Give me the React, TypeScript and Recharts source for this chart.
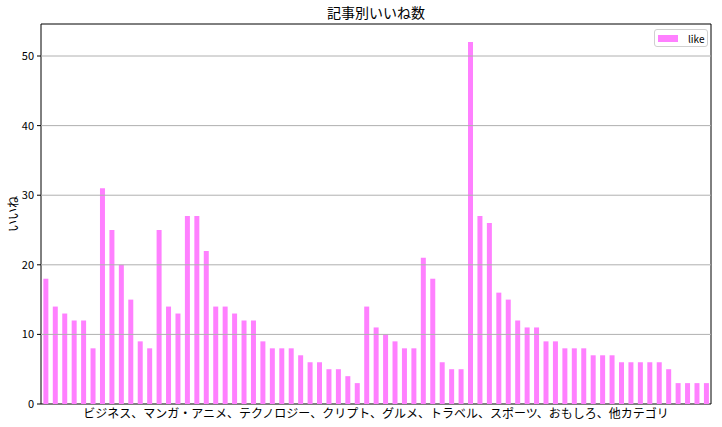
import { Bar, BarChart, Label, Legend, ReferenceArea, ReferenceLine, XAxis, YAxis } from "recharts";

const likes = [
  18, 14, 13, 12, 12, 8, 31, 25, 20, 15, 9, 8, 25, 14, 13, 27, 27, 22, 14, 14, 13, 12, 12, 9,
  8, 8, 8, 7, 6, 6, 5, 5, 4, 3, 14, 11, 10, 9, 8, 8, 21, 18, 6, 5, 5, 52, 27, 26, 16, 15, 12,
  11, 11, 9, 9, 8, 8, 8, 7, 7, 7, 6, 6, 6, 6, 6, 5, 3, 3, 3, 3,
];
const yTicks = [0, 10, 20, 30, 40, 50];
const seriesName = "like";
const title = "記事別いいね数";
const xLabel = "ビジネス、マンガ・アニメ、テクノロジー、クリプト、グルメ、トラベル、スポーツ、おもしろ、他カテゴリ";
const yLabel = "いいね";

const barColor = "#ff80ff";
const yMax = Math.max(...likes) * 1.05;

export default function App() {
  const data = likes.map((v, i) => ({ idx: i, like: v }));

  return (
    <div style={{ position: "absolute", left: 0, top: 0, fontFamily: "'Noto Sans CJK JP', sans-serif" }}>
      <BarChart
        width={722}
        height={427}
        data={data}
        margin={{ top: 24, right: 11, bottom: 23, left: 11 }}
        barCategoryGap="25%"
      >
        <XAxis dataKey="idx" hide />
        <YAxis
          width={30}
          domain={[0, yMax]}
          ticks={yTicks}
          interval={0}
          tickSize={4}
          tickMargin={3}
          axisLine={false}
          tickLine={{ stroke: "#000" }}
          tick={{ fontSize: 11, fill: "#000" }}
        />
        <Bar dataKey="like" name={seriesName} fill={barColor} isAnimationActive={false} />
        {yTicks.slice(1).map((t) => (
          <ReferenceLine key={t} y={t} stroke="#b0b0b0" strokeWidth={1} />
        ))}
        <ReferenceArea y1={0} y2={yMax} fill="none" stroke="#000" strokeWidth={1} ifOverflow="visible">
          <Label
            position="top"
            content={({ viewBox }: any) => (
              <text x={viewBox.x + viewBox.width / 2} y={viewBox.y - 6} textAnchor="middle" fontSize={14} fill="#000">
                {title}
              </text>
            )}
          />
          <Label
            position="bottom"
            content={({ viewBox }: any) => (
              <text
                x={viewBox.x + viewBox.width / 2}
                y={viewBox.y + viewBox.height + 14}
                textAnchor="middle"
                fontSize={12}
                fill="#000"
              >
                {xLabel}
              </text>
            )}
          />
          <Label
            position="left"
            content={({ viewBox }: any) => {
              const cx = 18;
              const cy = viewBox.y + viewBox.height / 2;
              return (
                <text x={cx} y={cy} textAnchor="middle" fontSize={12} fill="#000" transform={`rotate(-90, ${cx}, ${cy})`}>
                  {yLabel}
                </text>
              );
            }}
          />
        </ReferenceArea>
        <Legend
          layout="horizontal"
          verticalAlign="middle"
          align="center"
          wrapperStyle={{ top: 29, left: 654, width: 54, height: 18 }}
          content={() => (
            <div
              style={{
                boxSizing: "border-box",
                width: 54,
                height: 18,
                border: "1px solid #d0d0d0",
                borderRadius: 3,
                background: "#fff",
                display: "flex",
                alignItems: "center",
                paddingLeft: 3,
                fontSize: 10,
                color: "#000",
              }}
            >
              <span style={{ display: "inline-block", width: 20, height: 7, background: barColor, marginRight: 10 }} />
              <span>{seriesName}</span>
            </div>
          )}
        />
      </BarChart>
    </div>
  );
}
